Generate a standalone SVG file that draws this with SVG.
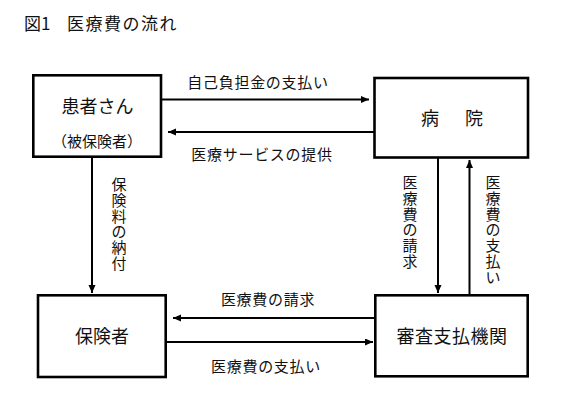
<svg xmlns="http://www.w3.org/2000/svg" width="584" height="404" viewBox="0 0 584 404">
<style>
text{font-family:"Noto Sans CJK JP","Noto Sans CJK SC",sans-serif;fill:#111}
.box{fill:#fff;stroke:#000;stroke-width:2.6}
.conn{stroke:#000;stroke-width:2;fill:none}
.lbl{font-size:15px;letter-spacing:0.7px}
.big{font-size:18px}
.vt{font-size:15px;text-anchor:middle}
</style>
<defs>
<marker id="ah" markerUnits="userSpaceOnUse" markerWidth="9" markerHeight="8" refX="8" refY="3.5" orient="auto">
<path d="M0,0 L8,3.5 L0,7 z" fill="#000"/>
</marker>
</defs>
<rect width="584" height="404" fill="#fff"/>
<g id="title">
<text x="24" y="30" style="font-size:17px">図1</text>
<text x="67" y="30" style="font-size:17px;letter-spacing:1.5px">医療費の流れ</text>
</g>
<g id="patient">
<rect class="box" x="33.3" y="75.3" width="127.7" height="81.4"/>
<text class="big" x="97.5" y="113" text-anchor="middle">患者さん</text>
<text x="97" y="147" text-anchor="middle" style="font-size:15px">（被保険者）</text>
</g>
<g id="hospital">
<rect class="box" x="374.5" y="78" width="153.5" height="79.5"/>
<text class="big" x="430" y="125" text-anchor="middle">病</text>
<text class="big" x="474" y="125" text-anchor="middle">院</text>
</g>
<g id="insurer">
<rect class="box" x="38" y="295.3" width="127.7" height="81.7"/>
<text class="big" x="102" y="343" text-anchor="middle">保険者</text>
</g>
<g id="review">
<rect class="box" x="375.3" y="295.3" width="152.4" height="81"/>
<text class="big" x="452" y="343" text-anchor="middle" style="letter-spacing:0.5px">審査支払機関</text>
</g>
<g id="connectors">
<line class="conn" x1="162" y1="99.5" x2="369" y2="99.5" marker-end="url(#ah)"/>
<line class="conn" x1="374" y1="132" x2="168" y2="132" marker-end="url(#ah)"/>
<line class="conn" x1="92" y1="157" x2="92" y2="293" marker-end="url(#ah)"/>
<line class="conn" x1="438" y1="158" x2="438" y2="293" marker-end="url(#ah)"/>
<line class="conn" x1="469.5" y1="295" x2="469.5" y2="160" marker-end="url(#ah)"/>
<line class="conn" x1="375" y1="318" x2="173" y2="318" marker-end="url(#ah)"/>
<line class="conn" x1="166" y1="342" x2="373" y2="342" marker-end="url(#ah)"/>
<text class="lbl" x="258" y="88" text-anchor="middle">自己負担金の支払い</text>
<text class="lbl" x="262" y="160" text-anchor="middle">医療サービスの提供</text>
<text class="lbl" x="268" y="305" text-anchor="middle">医療費の請求</text>
<text class="lbl" x="266" y="372" text-anchor="middle">医療費の支払い</text>
<text class="vt" x="119"><tspan x="119" y="190">保</tspan><tspan x="119" y="205.8">険</tspan><tspan x="119" y="221.6">料</tspan><tspan x="119" y="237.4">の</tspan><tspan x="119" y="253.2">納</tspan><tspan x="119" y="269">付</tspan></text>
<text class="vt" x="410"><tspan x="410" y="188">医</tspan><tspan x="410" y="203.8">療</tspan><tspan x="410" y="219.6">費</tspan><tspan x="410" y="235.4">の</tspan><tspan x="410" y="251.2">請</tspan><tspan x="410" y="267">求</tspan></text>
<text class="vt" x="493"><tspan x="493" y="188">医</tspan><tspan x="493" y="203.8">療</tspan><tspan x="493" y="219.6">費</tspan><tspan x="493" y="235.4">の</tspan><tspan x="493" y="251.2">支</tspan><tspan x="493" y="267">払</tspan><tspan x="493" y="282.8">い</tspan></text>
</g>
</svg>
